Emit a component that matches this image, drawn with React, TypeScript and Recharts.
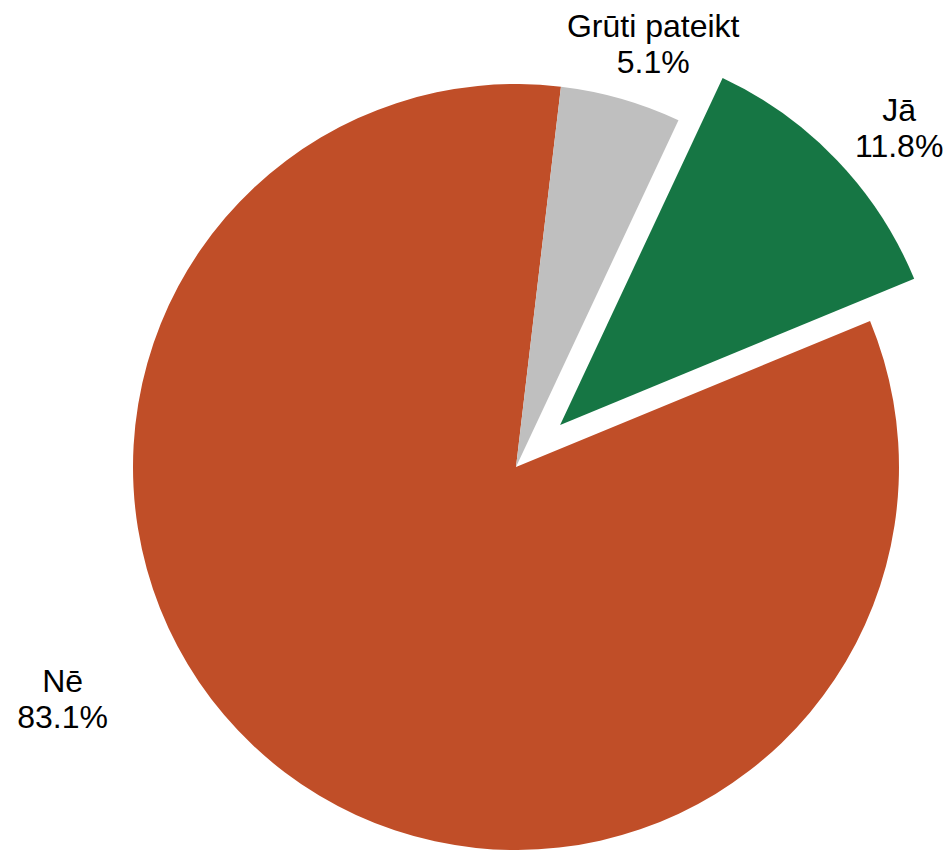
import { PieChart, Pie, Cell } from 'recharts'

const names = ['Jā', 'Nē', 'Grūti pateikt']
const shares = [11.8, 83.1, 5.1]
const colors = ['#167644', '#C04E28', '#BFBFBF']
const exploded = 'Jā'

const data = names.map((name, i) => ({ name, value: shares[i] }))

const W = 951
const H = 852
const CX = 516
const CY = 467
const R = 383
const START = 64.9
const EXPLODE = 61
const RADIAN = Math.PI / 180

// label placement tweaks: extra radius + angle shift (deg) from the slice middle
const labelNudge: Record<string, { dr: number; da: number }> = {
  'Jā': { dr: 68, da: -2.4 },
  'Nē': { dr: 126, da: -25.8 },
  'Grūti pateikt': { dr: 63, da: -2 },
}

// where the exploded slice sits: push its center out along the middle angle
const total = shares.reduce((a, b) => a + b, 0)
const explIdx = names.indexOf(exploded)
const before = shares.slice(0, explIdx).reduce((a, b) => a + b, 0)
const explMid = START - ((before + shares[explIdx] / 2) / total) * 360
const dx = EXPLODE * Math.cos(explMid * RADIAN)
const dy = -EXPLODE * Math.sin(explMid * RADIAN)

const makeLabel = (only: (n: string) => boolean) => (props: any) => {
  const { cx, cy, midAngle, outerRadius, name, value } = props
  if (!only(name)) return null
  const nudge = labelNudge[name] || { dr: 40, da: 0 }
  const r = outerRadius + nudge.dr
  const a = (midAngle + nudge.da) * RADIAN
  const x = cx + r * Math.cos(a)
  const y = cy - r * Math.sin(a)
  return (
    <text x={x} y={y} textAnchor="middle" fill="#000" fontSize={32}
      fontFamily="Arial, 'Liberation Sans', sans-serif">
      <tspan x={x} y={y - 6}>{name}</tspan>
      <tspan x={x} y={y + 30}>{value.toFixed(1)}%</tspan>
    </text>
  )
}

export default function App() {
  return (
    <div style={{ width: W, height: H, background: '#fff' }}>
      <style>{'body{margin:0}'}</style>
      <PieChart width={W} height={H} margin={{ top: 0, right: 0, bottom: 0, left: 0 }}>
        {/* base pie, exploded slice hidden */}
        <Pie data={data} dataKey="value" nameKey="name" cx={CX} cy={CY}
          outerRadius={R} startAngle={START} endAngle={START - 360}
          stroke="none" labelLine={false} isAnimationActive={false}
          label={makeLabel(n => n !== exploded)}>
          {data.map((d, i) => (
            <Cell key={d.name} fill={d.name === exploded ? 'transparent' : colors[i]} stroke="none" />
          ))}
        </Pie>
        {/* exploded slice drawn from a shifted center */}
        <Pie data={data} dataKey="value" nameKey="name" cx={CX + dx} cy={CY + dy}
          outerRadius={R} startAngle={START} endAngle={START - 360}
          stroke="none" labelLine={false} isAnimationActive={false}
          label={makeLabel(n => n === exploded)}>
          {data.map((d, i) => (
            <Cell key={d.name} fill={d.name === exploded ? colors[i] : 'transparent'} stroke="none" />
          ))}
        </Pie>
      </PieChart>
    </div>
  )
}
